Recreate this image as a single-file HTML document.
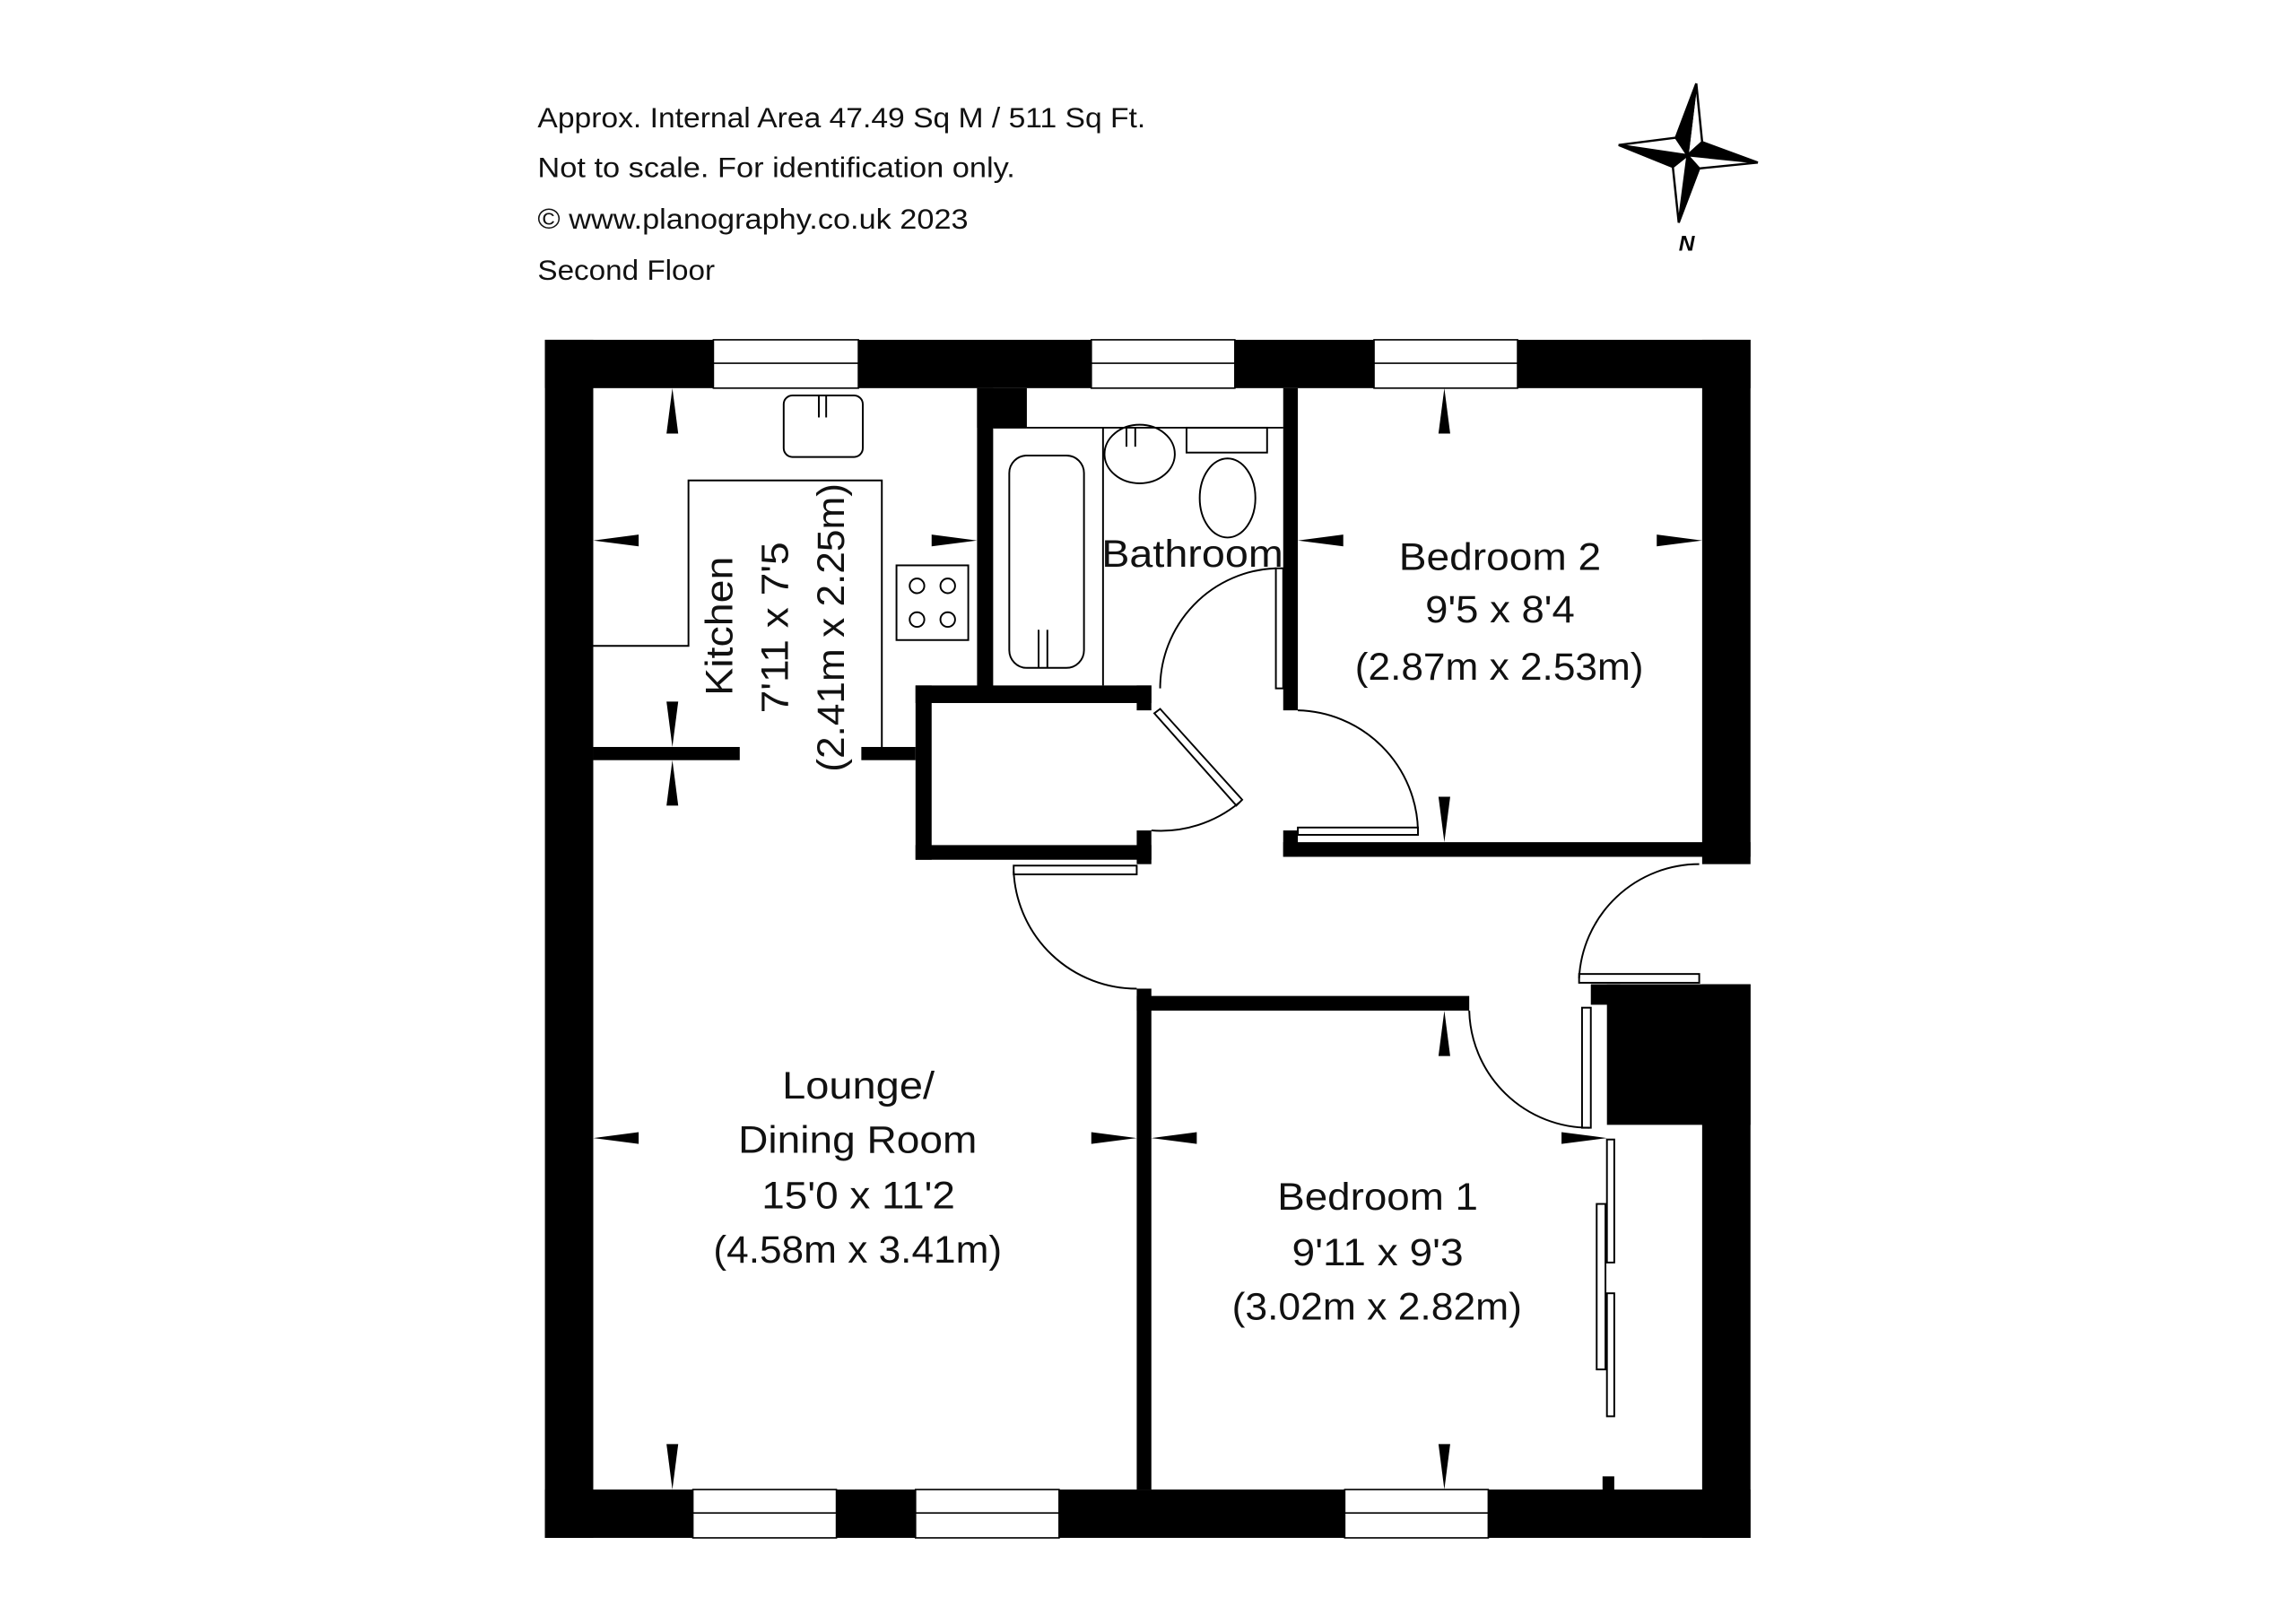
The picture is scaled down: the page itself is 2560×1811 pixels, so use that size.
<!DOCTYPE html>
<html><head><meta charset="utf-8"><style>html,body{margin:0;padding:0;background:#fff}svg{display:block}</style></head>
<body>
<svg width="2560" height="1811" viewBox="0 0 1567.4 1108.8" xmlns="http://www.w3.org/2000/svg" font-family="Liberation Sans, sans-serif">
<rect width="1567.4" height="1108.8" fill="#fff"/>
<g font-size="19" fill="#111">
<text x="367" y="87" textLength="415" lengthAdjust="spacingAndGlyphs">Approx. Internal Area 47.49 Sq M / 511 Sq Ft.</text>
<text x="367" y="121" textLength="326" lengthAdjust="spacingAndGlyphs">Not to scale. For identification only.</text>
<text x="367" y="156" textLength="294" lengthAdjust="spacingAndGlyphs">© www.planography.co.uk 2023</text>
<text x="367" y="191" textLength="121" lengthAdjust="spacingAndGlyphs">Second Floor</text>
</g>
<g transform="translate(8,0)">
<g stroke="#000" stroke-width="1.5" stroke-linejoin="miter">
<polygon points="1150,57 1154,97 1144,106" fill="#fff"/><polygon points="1150,57 1136,94 1144,106" fill="#000"/>
<polygon points="1192,111 1154,97 1144,106" fill="#000"/><polygon points="1192,111 1152,115 1144,106" fill="#fff"/>
<polygon points="1138,152 1152,115 1144,106" fill="#000"/><polygon points="1138,152 1134,114 1144,106" fill="#fff"/>
<polygon points="1097,99 1134,114 1144,106" fill="#000"/><polygon points="1097,99 1136,94 1144,106" fill="#fff"/>
</g>
<text x="1138" y="171" font-size="15" font-weight="bold" font-style="italic">N</text>
</g>

<g fill="#000">
<rect x="372" y="232" width="823" height="33"/>
<rect x="372" y="232" width="33" height="818"/>
<rect x="372" y="1017" width="823" height="33"/>
<rect x="1162" y="232" width="33" height="358"/>
<rect x="1162" y="672" width="33" height="378"/>
<rect x="1097" y="672" width="98" height="96"/>
<rect x="1086" y="672" width="20" height="14"/>
<rect x="667" y="265" width="34" height="27"/>
<rect x="667" y="265" width="11" height="210"/>
<rect x="876" y="265" width="10" height="220"/>
<rect x="625" y="468" width="161" height="12"/>
<rect x="625" y="468" width="11" height="119"/>
<rect x="625" y="577" width="161" height="10"/>
<rect x="776" y="468" width="10" height="17"/>
<rect x="776" y="567" width="10" height="23"/>
<rect x="405" y="510" width="100" height="9"/>
<rect x="588" y="510" width="37" height="9"/>
<rect x="876" y="575" width="319" height="10"/>
<rect x="876" y="567" width="10" height="18"/>
<rect x="776" y="675" width="10" height="342"/>
<rect x="776" y="680" width="227" height="10"/>
<rect x="1094" y="1008" width="8" height="10"/>
</g>
<g fill="#fff" stroke="#000" stroke-width="1">
<rect x="487" y="232" width="99" height="33"/><line x1="487" y1="248" x2="586" y2="248"/>
<rect x="745" y="232" width="98" height="33"/><line x1="745" y1="248" x2="843" y2="248"/>
<rect x="938" y="232" width="98" height="33"/><line x1="938" y1="248" x2="1036" y2="248"/>
<rect x="473" y="1017" width="98" height="33"/><line x1="473" y1="1033" x2="571" y2="1033"/>
<rect x="625" y="1017" width="98" height="33"/><line x1="625" y1="1033" x2="723" y2="1033"/>
<rect x="918" y="1017" width="98" height="33"/><line x1="918" y1="1033" x2="1016" y2="1033"/>
</g>
<g fill="none" stroke="#000" stroke-width="1.2">
<polyline points="405,441 470,441 470,328 602,328 602,512"/>
<rect x="535" y="270" width="54" height="42" rx="6"/>
<line x1="559" y1="270" x2="559" y2="285"/><line x1="564" y1="270" x2="564" y2="285"/>
<rect x="612" y="386" width="49" height="51"/>
<circle cx="626" cy="400" r="5"/><circle cx="647" cy="400" r="5"/><circle cx="626" cy="423" r="5"/><circle cx="647" cy="423" r="5"/>
<line x1="701" y1="292" x2="876" y2="292"/>
<line x1="678" y1="292" x2="701" y2="292"/>
<line x1="753" y1="292" x2="753" y2="468"/>
<rect x="689" y="311" width="51" height="145" rx="12"/>
<line x1="709" y1="430" x2="709" y2="456"/><line x1="715" y1="430" x2="715" y2="456"/>
<ellipse cx="778" cy="310" rx="24" ry="20"/>
<line x1="769" y1="292" x2="769" y2="305"/><line x1="775" y1="292" x2="775" y2="305"/>
<rect x="810" y="292" width="55" height="17"/>
<ellipse cx="838" cy="340" rx="19" ry="27"/>
<rect x="871" y="388" width="5" height="82" fill="#fff"/>
<path d="M871,388 A82,82 0 0 0 792,470"/>
<polygon points="788,487 792,484 848,546 844,550" fill="#fff"/>
<path d="M846,548 A84,84 0 0 1 786,567"/>
<rect x="886" y="565" width="82" height="5" fill="#fff"/>
<path d="M886,485 A84,84 0 0 1 968,567"/>
<rect x="692" y="591" width="84" height="6" fill="#fff"/>
<path d="M692,595 A84,84 0 0 0 776,675"/>
<rect x="1078" y="665" width="82" height="6" fill="#fff"/>
<path d="M1078,668 A82,82 0 0 1 1160,590"/>
<rect x="1080" y="688" width="6" height="82" fill="#fff"/>
<path d="M1003,690 A82,82 0 0 0 1085,770"/>
<rect x="1097" y="778" width="5" height="84" fill="#fff"/>
<rect x="1090" y="822" width="6" height="113" fill="#fff"/>
<rect x="1097" y="883" width="5" height="84" fill="#fff"/>
</g>
<g fill="#000">
<polygon points="459,265 455,296 463,296"/>
<polygon points="405,369 436,365 436,373"/>
<polygon points="667,369 636,365 636,373"/>
<polygon points="459,510 455,479 463,479"/>
<polygon points="459,519 455,550 463,550"/>
<polygon points="986,265 982,296 990,296"/>
<polygon points="886,369 917,365 917,373"/>
<polygon points="1162,369 1131,365 1131,373"/>
<polygon points="986,575 982,544 990,544"/>
<polygon points="405,777 436,773 436,781"/>
<polygon points="776,777 745,773 745,781"/>
<polygon points="459,1017 455,986 463,986"/>
<polygon points="786,777 817,773 817,781"/>
<polygon points="1097,777 1066,773 1066,781"/>
<polygon points="986,690 982,721 990,721"/>
<polygon points="986,1017 982,986 990,986"/>
</g>
<g font-size="26" fill="#111" text-anchor="start">
<text x="752" y="387" textLength="124" lengthAdjust="spacingAndGlyphs">Bathroom</text>
<text x="955" y="389" textLength="138" lengthAdjust="spacingAndGlyphs">Bedroom 2</text>
<text x="973" y="425" textLength="102" lengthAdjust="spacingAndGlyphs">9'5 x 8'4</text>
<text x="925" y="464" textLength="197" lengthAdjust="spacingAndGlyphs">(2.87m x 2.53m)</text>
<text x="534" y="750" textLength="104" lengthAdjust="spacingAndGlyphs">Lounge/</text>
<text x="504" y="787" textLength="163" lengthAdjust="spacingAndGlyphs">Dining Room</text>
<text x="520" y="825" textLength="132" lengthAdjust="spacingAndGlyphs">15'0 x 11'2</text>
<text x="487" y="862" textLength="197" lengthAdjust="spacingAndGlyphs">(4.58m x 3.41m)</text>
<text x="872" y="826" textLength="137" lengthAdjust="spacingAndGlyphs">Bedroom 1</text>
<text x="882" y="864" textLength="117" lengthAdjust="spacingAndGlyphs">9'11 x 9'3</text>
<text x="841" y="901" textLength="198" lengthAdjust="spacingAndGlyphs">(3.02m x 2.82m)</text>
<text transform="translate(500,475) rotate(-90)" textLength="95" lengthAdjust="spacingAndGlyphs">Kitchen</text>
<text transform="translate(538,487) rotate(-90)" textLength="117" lengthAdjust="spacingAndGlyphs">7'11 x 7'5</text>
<text transform="translate(576,527) rotate(-90)" textLength="197" lengthAdjust="spacingAndGlyphs">(2.41m x 2.25m)</text>
</g>
</svg>
</body></html>
